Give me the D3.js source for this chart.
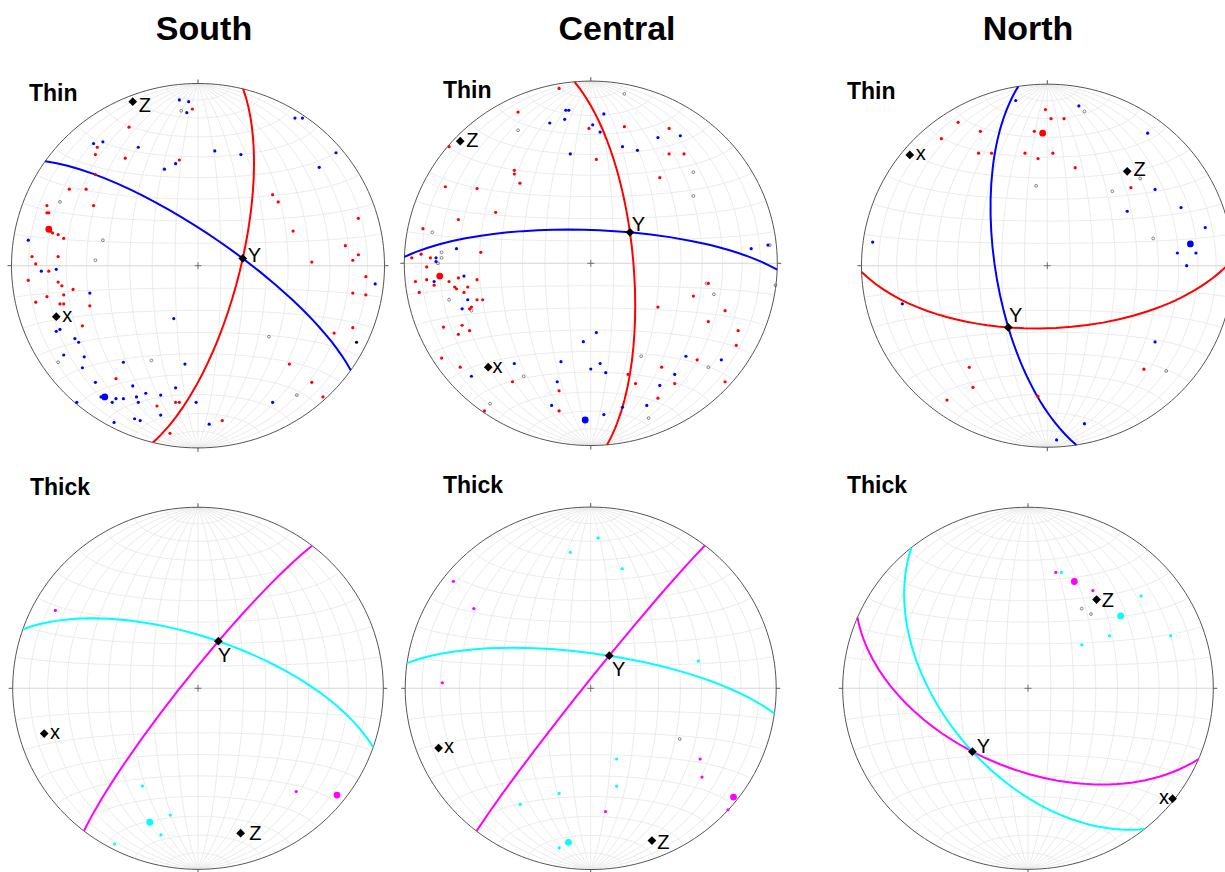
<!DOCTYPE html>
<html>
<head>
<meta charset="utf-8">
<script src="https://cdnjs.cloudflare.com/ajax/libs/d3/7.8.5/d3.min.js"></script>
<style>
  body { margin: 0; background: #fff; }
  svg { display: block; font-family: "Liberation Sans", Arial, Helvetica, sans-serif; }
</style>
</head>
<body>
<script>
// Lower-hemisphere equal-area nets. Points are read off the nets as [east, north],
// primitive circle radius = 100. Planes: strike azimuth (deg), each plane passes through Y.
var regions = ["South", "Central", "North"];
var layers = ["Thin", "Thick"];

// ---- South / Thin
var southThinA = [[-3,86],[-37,76],[-54,65],[-55,61],[-39,59],[-10,58],[-55,50],[-69,42],[-60,42],[40,39],[43,35],[-81,33],[-56,33],[-81,29],[-80,29],[86,26],[-79,19],[-78,18],[-75,17],[-72,15],[51,19],[79,11],[86,6],[-89,5],[-75,5],[-87,1],[83,3],[61,2],[-80,-3],[90,-6],[-91,-8],[-75,-9],[-73,-11],[-67,-13],[-72,-16],[83,-15],[90,-16],[-81,-17],[-87,-20],[-74,-21],[-72,-21],[-58,-22],[-62,-33],[83,-34],[73,-37],[49,-54],[-44,-62],[61,-64],[67,-72],[-22,-77],[-12,-75],[-10,-75],[13,-85],[-15,-92]];
var southThinB = [[-10,91],[-5,90],[-6,84],[52,81],[56,81],[-56,67],[-51,68],[-32,65],[9,63],[23,61],[74,62],[65,54],[-12,56],[-18,53],[-91,14],[-76,-2],[-84,-3],[95,-10],[-58,-15],[-13,-29],[-76,-36],[-74,-35],[-66,-40],[-64,-42],[-72,-49],[-61,-50],[-40,-53],[-7,-54],[-62,-56],[-55,-64],[-35,-66],[-12,-67],[-28,-70],[-20,-71],[-33,-72],[-52,-72],[-44,-73],[-40,-73],[-46,-75],[-32,-75],[-65,-75],[-1,-75],[40,-75],[-20,-82],[-34,-84],[-31,-85],[-45,-86],[6,-87]];
var southThinMeans = [[-80,20],[-50,-72]];
var southThinOpen = [[-9,85],[-74,35],[-51,14],[-55,3],[38,-39],[-75,-53],[-25,-52],[53,-71]];
var southThinBlack = [[85,-42]];
var southThinPlanes = [14, 305];
var southThinAxes = [["Z",-35,90],["x",-76,-28],["Y",24,4]];

// ---- Central / Thin
var centralThinA = [[-17,96],[-39,83],[-1,74],[18,75],[42,74],[-76,64],[3,57],[42,60],[50,60],[-41,51],[-41,49],[-38,44],[37,47],[-78,42],[-61,41],[-51,28],[-71,24],[-90,19],[-59,6],[-96,3],[-91,5],[-86,3],[-88,-2],[-94,-10],[-88,-9],[-84,-12],[-76,-10],[-71,-8],[-73,-13],[-72,-14],[-66,-13],[-61,-9],[-68,-16],[-92,-16],[-61,-20],[-58,-20],[-64,-24],[-65,-25],[-79,-35],[-69,-34],[-71,-39],[-65,-37],[-80,-52],[-70,-57],[-42,-65],[-17,-70],[-17,-81],[-57,-81],[63,-11],[55,-18],[36,-24],[72,-26],[63,-32],[79,-37],[78,-45],[57,-53],[38,-57],[20,-61],[24,-66],[45,-66],[36,-74],[72,-65]];
var centralThinB = [[-13.4,84],[-11.8,84],[-22,77],[-14,79],[7,82],[1,76],[5,72],[-11,60],[17,64],[25,62],[36,69],[48,70],[86,8],[95,10],[-72,8],[-83,3],[-83,1],[-84,-10],[-68,-7],[-66,-20],[-69,-25],[3,-38],[-4,-43],[-41,-55],[-16,-54],[5,-55],[0,-58],[8,-60],[-64,-62],[-18,-65],[-21,-78],[7,-83],[17,-79],[30,-78],[37,-67],[45,-61],[51,-51],[70,-53]];
var centralThinMeans = [[-81,-7],[-3,-86]];
var centralThinOpen = [[18,93],[-39,73],[55,50],[55,37],[-85,17],[-80,6],[-80,3],[-82,0],[96,10],[99,-12],[62,-11],[66,-17],[-76,-20],[-64,-26],[27,-51],[63,-57],[-36,-62],[-54,-77],[31,-85]];
var centralThinBlack = [];
var centralThinPlanes = [355, 272];
var centralThinAxes = [["Z",-70,67],["x",-55,-57],["Y",21,17]];

// ---- North / Thin
var northThinA = [[-1,86],[2,81],[9,81],[-48,79],[-7,74],[-36,74],[-57,70],[-37,62],[-30,62],[-12,62],[-5,59],[3,62],[15,54],[45,43],[-42,-56],[-40,-67],[-54,-74],[-5,-72],[52,-57]];
var northThinB = [[-17,91],[17,88],[54,73],[58,42],[72,32],[43,30],[85,21],[70,7],[80,7],[75,0],[-94,13],[-78,-21],[58,-42],[20,-87],[5,-96]];
var northThinMeans = [[-2.5,73],[77,12]];
var northThinOpen = [[20,85],[-6,44],[35,41],[50,48],[57,15],[64,-58]];
var northThinBlack = [];
var northThinPlanes = [268, 351];
var northThinAxes = [["x",-74,61],["Z",43,52],["Y",-21,-34]];

// ---- South / Thick
var southThickA = [[-77,43],[53,-57]];
var southThickB = [[-30,-54],[-15,-70],[-20,-81],[-45,-86]];
var southThickMeans = [[75,-59],[-26,-74]];
var southThickOpen = [];
var southThickBlack = [];
var southThickPlanes = [38, 289];
var southThickAxes = [["Y",11,26],["x",-83,-25],["Z",23,-80]];

// ---- Central / Thick
var centralThickA = [[-74,59],[-63,44],[-80,3],[59,-39],[60,-49],[8,-68],[74,-67]];
var centralThickB = [[4,83],[-11,75],[17,66],[58,15],[14,-39],[14,-54],[-17,-58],[-38,-64],[-17,-88]];
var centralThickMeans = [[77,-60],[-12,-85]];
var centralThickOpen = [[48,-28]];
var centralThickBlack = [];
var centralThickPlanes = [38, 278];
var centralThickAxes = [["Y",10,18],["x",-82,-33],["Z",33,-84]];

// ---- North / Thick
var northThickA = [[15,64],[35,54]];
var northThickB = [[18,64],[61,51],[44,29],[77,29],[29,24]];
var northThickMeans = [[25,59],[50,40]];
var northThickOpen = [[29,44],[34,41]];
var northThickBlack = [];
var northThickPlanes = [293, 321];
var northThickAxes = [["Z",37,49],["Y",-30,-35],["x",78,-61]];

var panels = [
  { region: "South",   layer: "Thin",  A: southThinA,   B: southThinB,   means: southThinMeans,   open: southThinOpen,   black: southThinBlack,   planes: southThinPlanes,   axes: southThinAxes },
  { region: "Central", layer: "Thin",  A: centralThinA, B: centralThinB, means: centralThinMeans, open: centralThinOpen, black: centralThinBlack, planes: centralThinPlanes, axes: centralThinAxes },
  { region: "North",   layer: "Thin",  A: northThinA,   B: northThinB,   means: northThinMeans,   open: northThinOpen,   black: northThinBlack,   planes: northThinPlanes,   axes: northThinAxes },
  { region: "South",   layer: "Thick", A: southThickA,  B: southThickB,  means: southThickMeans,  open: southThickOpen,  black: southThickBlack,  planes: southThickPlanes,  axes: southThickAxes },
  { region: "Central", layer: "Thick", A: centralThickA,B: centralThickB,means: centralThickMeans,open: centralThickOpen,black: centralThickBlack,planes: centralThickPlanes,axes: centralThickAxes },
  { region: "North",   layer: "Thick", A: northThickA,  B: northThickB,  means: northThickMeans,  open: northThickOpen,  black: northThickBlack,  planes: northThickPlanes,  axes: northThickAxes }
];

// ---- layout / style
var w = 1225, h = 872;
var squash = 0.977;
var netPos = {
  "South-Thin":    { cx: 198,    cy: 265.7, r: 186.5 },
  "Central-Thin":  { cx: 590.8,  cy: 263.3, r: 186.5 },
  "North-Thin":    { cx: 1047.3, cy: 265.7, r: 185.8 },
  "South-Thick":   { cx: 198,    cy: 688.3, r: 185.3 },
  "Central-Thick": { cx: 590.7,  cy: 688.3, r: 185.5 },
  "North-Thick":   { cx: 1028,   cy: 688.3, r: 185.3 }
};
var titleX = { South: 204, Central: 617, North: 1028 };
var layerLabel = {
  "South-Thin": [29, 100.5], "Central-Thin": [443, 98.3], "North-Thin": [847, 98.7],
  "South-Thick": [30, 495], "Central-Thick": [443, 493], "North-Thick": [847, 493.3]
};
// label offsets from the diamond: [dx, baseline dy, anchor]
var labelOff = {
  "South-Thin":    { Z: [6, 10, "start"],  x: [6, 5.7, "start"], Y: [5, 3.7, "start"] },
  "Central-Thin":  { Z: [6, 6, "start"],   x: [4.3, 5.7, "start"], Y: [1.7, -1.3, "start"] },
  "North-Thin":    { x: [6, 5.3, "start"], Z: [6.3, 4.3, "start"], Y: [0.7, -5, "start"] },
  "South-Thick":   { Y: [-0.7, 21, "start"], x: [5.7, 5, "start"], Z: [8.7, 7.3, "start"] },
  "Central-Thick": { Y: [2.7, 20, "start"], x: [5.3, 5, "start"], Z: [5.3, 8.3, "start"] },
  "North-Thick":   { Z: [5.3, 7.7, "start"], Y: [4.3, 1, "start"], x: [-3.5, 5.3, "end"] }
};
var colours = { Thin: ["#ff0000", "#0000ff"], Thick: ["#ff00ff", "#00ffff"] };

var svg = d3.select("body").append("svg")
  .attr("width", w)
  .attr("height", h);

// column titles
svg.selectAll("text.title")
  .data(regions)
  .enter().append("text")
  .attr("class", "title")
  .attr("x", function(d) { return titleX[d]; })
  .attr("y", 40)
  .attr("text-anchor", "middle")
  .attr("font-size", 34)
  .attr("font-weight", "bold")
  .text(function(d) { return d; });

function rad(a) { return a * Math.PI / 180; }
function deg(a) { return a * 180 / Math.PI; }

// horizontal line with given azimuth -> point on the globe used by the equatorial net
function edgeGeo(az) {
  var s = Math.sin(rad(az)), c = Math.cos(rad(az));
  return [deg(Math.atan2(s, 0)), deg(Math.asin(Math.max(-1, Math.min(1, c))))];
}

panels.forEach(function(p) {
  var key = p.region + "-" + p.layer;
  var pos = netPos[key];
  var R = pos.r;

  var g = svg.append("g")
    .attr("transform", "translate(" + pos.cx + "," + pos.cy + ")");

  var flat = d3.geoTransform({ point: function(x, y) { this.stream.point(x, y * squash); } });
  var projClip = d3.geoAzimuthalEqualArea().scale(R / Math.SQRT2).translate([0, 0]).precision(0.1).clipAngle(90);
  var projFree = d3.geoAzimuthalEqualArea().scale(R / Math.SQRT2).translate([0, 0]).precision(0.1);
  var pathClip = d3.geoPath({ stream: function(s) { return projClip.stream(flat.stream(s)); } });
  var pathFree = d3.geoPath({ stream: function(s) { return projFree.stream(flat.stream(s)); } });

  var x = d3.scaleLinear().domain([-100, 100]).range([-R, R]);
  var y = d3.scaleLinear().domain([-100, 100]).range([R * squash, -R * squash]);

  // grid
  var graticule = d3.geoGraticule()
    .extentMajor([[-180, -90], [180, 90]])
    .extentMinor([[-180, -90], [180, 90]])
    .step([10, 10]);
  g.append("path")
    .datum(graticule())
    .attr("d", pathClip)
    .attr("fill", "none")
    .attr("stroke", "#e6e6e6")
    .attr("stroke-width", 0.8);

  g.append("path")
    .datum({ type: "LineString", coordinates: [[-90, 0], [0, 0], [90, 0]] })
    .attr("d", pathFree)
    .attr("fill", "none")
    .attr("stroke", "#d9d9d9")
    .attr("stroke-width", 0.9);

  // primitive circle
  g.append("path")
    .datum({ type: "Sphere" })
    .attr("d", pathClip)
    .attr("fill", "none")
    .attr("stroke", "#555")
    .attr("stroke-width", 1);

  // N E S W ticks and centre cross
  var ticks = [[0, -1], [1, 0], [0, 1], [-1, 0]];
  g.selectAll("line.tick")
    .data(ticks)
    .enter().append("line")
    .attr("class", "tick")
    .attr("x1", function(d) { return d[0] * R; })
    .attr("y1", function(d) { return d[1] * R * squash; })
    .attr("x2", function(d) { return d[0] * (R + 4); })
    .attr("y2", function(d) { return d[1] * (R * squash + 4); })
    .attr("stroke", "#555")
    .attr("stroke-width", 1);
  g.append("path")
    .attr("d", "M-3.5,0H3.5M0,-3.5V3.5")
    .attr("stroke", "#555")
    .attr("stroke-width", 0.8);

  // planes, each through the Y axis
  var yAxis = p.axes.filter(function(d) { return d[0] === "Y"; })[0];
  var yGeo = projFree.invert([yAxis[1] / 100 * R, -yAxis[2] / 100 * R]);
  g.selectAll("path.plane")
    .data(p.planes)
    .enter().append("path")
    .attr("class", "plane")
    .attr("d", function(strike) {
      return pathFree({ type: "LineString", coordinates: [edgeGeo(strike), yGeo, edgeGeo(strike + 180)] });
    })
    .attr("fill", "none")
    .attr("stroke", function(d, i) { return colours[p.layer][i]; })
    .attr("stroke-width", 2);

  // open circles
  g.selectAll("circle.open")
    .data(p.open)
    .enter().append("circle")
    .attr("class", "open")
    .attr("cx", function(d) { return x(d[0]); })
    .attr("cy", function(d) { return y(d[1]); })
    .attr("r", 1.4)
    .attr("fill", "none")
    .attr("stroke", "#555")
    .attr("stroke-width", 0.7);

  // series dots
  [p.A, p.B].forEach(function(series, i) {
    g.selectAll("circle.s" + i)
      .data(series)
      .enter().append("circle")
      .attr("class", "s" + i)
      .attr("cx", function(d) { return x(d[0]); })
      .attr("cy", function(d) { return y(d[1]); })
      .attr("r", 1.6)
      .attr("fill", colours[p.layer][i]);
  });

  g.selectAll("circle.black")
    .data(p.black)
    .enter().append("circle")
    .attr("class", "black")
    .attr("cx", function(d) { return x(d[0]); })
    .attr("cy", function(d) { return y(d[1]); })
    .attr("r", 1.6)
    .attr("fill", "#000");

  // means
  g.selectAll("circle.mean")
    .data(p.means)
    .enter().append("circle")
    .attr("class", "mean")
    .attr("cx", function(d) { return x(d[0]); })
    .attr("cy", function(d) { return y(d[1]); })
    .attr("r", 3.4)
    .attr("fill", function(d, i) { return colours[p.layer][i]; });

  // X Y Z axes
  var ax = g.selectAll("g.axis")
    .data(p.axes)
    .enter().append("g")
    .attr("class", "axis")
    .attr("transform", function(d) { return "translate(" + x(d[1]) + "," + y(d[2]) + ")"; });
  ax.append("path")
    .attr("d", d3.symbol(d3.symbolSquare, 38))
    .attr("transform", "rotate(45)")
    .attr("fill", "#000");
  ax.append("text")
    .attr("x", function(d) { return labelOff[key][d[0]][0]; })
    .attr("y", function(d) { return labelOff[key][d[0]][1]; })
    .attr("text-anchor", function(d) { return labelOff[key][d[0]][2]; })
    .attr("font-size", 20)
    .text(function(d) { return d[0]; });

  // Thin / Thick label
  svg.append("text")
    .attr("x", layerLabel[key][0])
    .attr("y", layerLabel[key][1])
    .attr("font-size", 23)
    .attr("font-weight", "bold")
    .text(p.layer);
});
</script>
</body>
</html>
